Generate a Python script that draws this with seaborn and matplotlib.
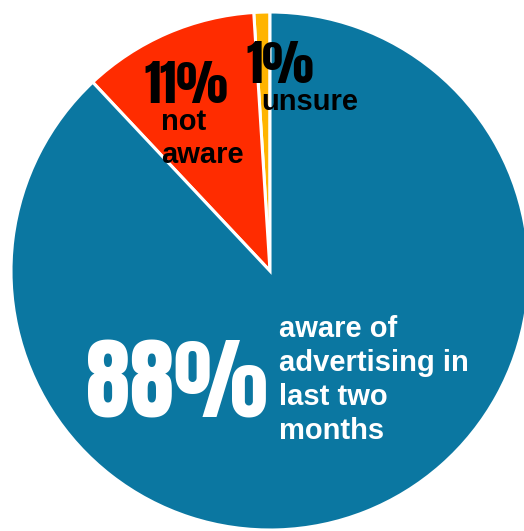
import matplotlib
matplotlib.use("Agg")
import matplotlib.pyplot as plt
import seaborn as sns

# Survey result: awareness of advertising
categories = ["unsure", "not aware", "aware"]
shares = [1, 11, 88]
descriptions = ["unsure", "not\naware", "aware of\nadvertising in\nlast two\nmonths"]
colors = ["#ffb400", "#ff2c00", "#0b77a1"]

sns.set_theme(style="white")
plt.rcParams["font.family"] = ["Liberation Sans", "DejaVu Sans"]

W, H = 524, 531
fig = plt.figure(figsize=(W / 100, H / 100), dpi=100)
ax = fig.add_axes([0, 0, 1, 1])

cx, cy, r = 270, H - 271, 259
ax.pie(shares, colors=colors, startangle=90, counterclock=True,
       center=(cx, cy), radius=r, frame=True,
       wedgeprops=dict(edgecolor="white", linewidth=2.2))
ax.set_xlim(0, W)
ax.set_ylim(0, H)
ax.set_aspect("equal")
ax.axis("off")

big = ["Anton", "DejaVu Sans"]

def y(py):
    return H - py

# 1% unsure
ax.text(246, y(83), f"{shares[0]}%", family=big, fontsize=35,
        color="black", ha="left", va="baseline")
ax.text(261, y(110), descriptions[0], weight="bold", fontsize=21,
        color="black", ha="left", va="baseline")

# 11% not aware
ax.text(144, y(103), f"{shares[1]}%", family=big, fontsize=35,
        color="black", ha="left", va="baseline")
ax.text(161, y(163), descriptions[1], weight="bold", fontsize=21,
        color="black", ha="left", va="baseline", linespacing=1.22)

# 88% aware
ax.text(86, y(418), f"{shares[2]}%", family=big, fontsize=64,
        color="white", ha="left", va="baseline")
ax.text(279, y(439), descriptions[2], weight="bold", fontsize=21,
        color="white", ha="left", va="baseline", linespacing=1.27)

fig.savefig("out.png", dpi=100, facecolor="white")
